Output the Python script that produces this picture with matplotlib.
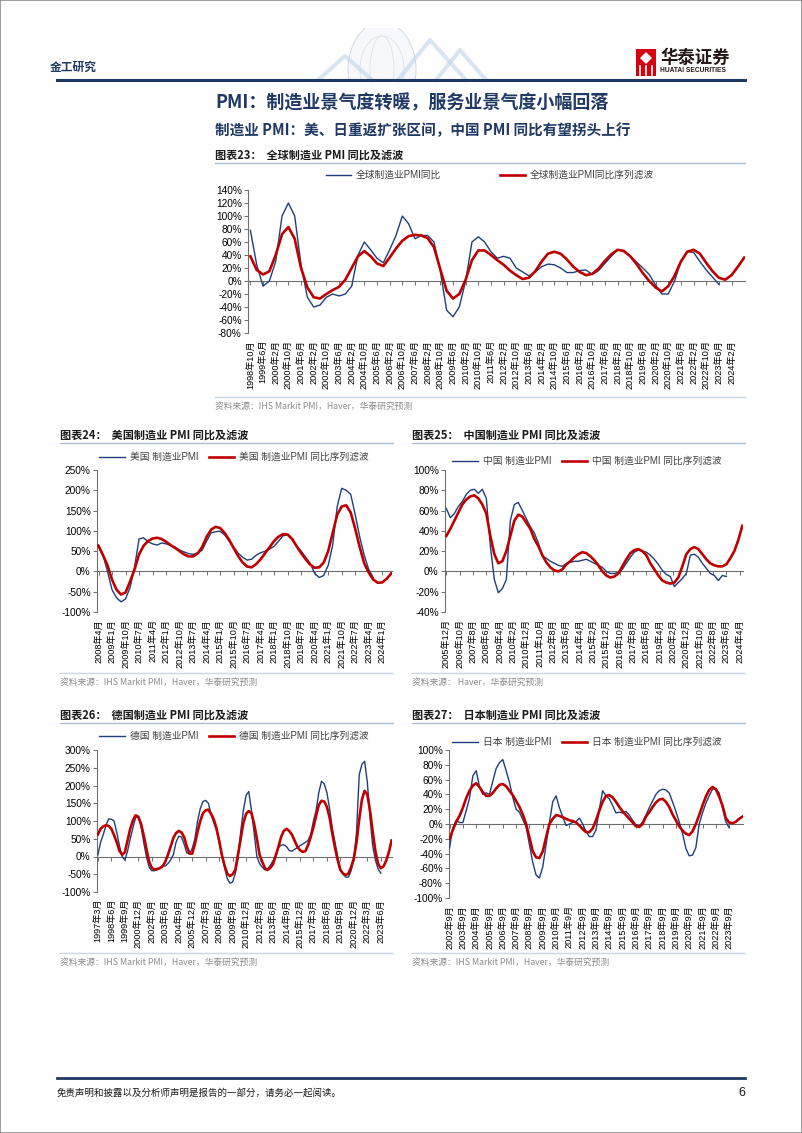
import numpy as np
import matplotlib
matplotlib.use("Agg")
import matplotlib.pyplot as plt
from matplotlib.lines import Line2D
from matplotlib.patches import Rectangle, Circle, Polygon, Ellipse
from matplotlib.ticker import FuncFormatter

W, H = 802, 1133
plt.rcParams["font.family"] = ["Liberation Sans", "Noto Sans CJK SC"]
CJK = ["Noto Sans CJK SC", "Liberation Sans"]

BLUE = "#1F3F7A"
RED = "#C00000"
NAVY = "#1F3864"
AXC = "#6E6E6E"
SRC = "#8C8C8C"
RULE = "#A9BFD6"

# ---- data (percent, one value per sample step) ----
# 图表23 global, every 4 months from 1998-10
GLB_STEP = 4
GLB_RAW = [78, 25, -8, 0, 30, 100, 120, 100, 25, -25, -40, -37, -25, -20, -23,
           -20, -8, 40, 60, 48, 35, 28, 48, 70, 100, 88, 65, 70, 70, 60,
           15, -45, -55, -40, 0, 60, 68, 60, 45, 35, 38, 35, 20, 14, 8,
           14, 22, 26, 25, 20, 13, 13, 16, 17, 10, 16, 27, 38, 48, 47,
           38, 29, 20, 10, -6, -20, -20, 0, 30, 45, 44, 30, 17, 6, -5]
GLB_FLT = [38, 17, 10, 15, 40, 72, 83, 65, 20, -10, -25, -27, -20, -14, -9,
           2, 20, 38, 46, 38, 27, 23, 36, 50, 62, 69, 71, 70, 66, 52,
           18, -15, -27, -20, 2, 32, 47, 47, 40, 32, 25, 16, 9, 3, 5,
           15, 30, 42, 45, 42, 33, 22, 14, 9, 11, 19, 31, 41, 48, 46,
           38, 26, 12, 0, -10, -16, -8, 8, 30, 45, 48, 42, 28, 15, 5,
           2, 9, 22, 36]
GLB_TICKS = ["1998年10月", "1999年6月", "2000年2月", "2000年10月", "2001年6月",
             "2002年2月", "2002年10月", "2003年6月", "2004年2月", "2004年10月",
             "2005年6月", "2006年2月", "2006年10月", "2007年6月", "2008年2月",
             "2008年10月", "2009年6月", "2010年2月", "2010年10月", "2011年6月",
             "2012年2月", "2012年10月", "2013年6月", "2014年2月", "2014年10月",
             "2015年6月", "2016年2月", "2016年10月", "2017年6月", "2018年2月",
             "2018年10月", "2019年6月", "2020年2月", "2020年10月", "2021年6月",
             "2022年2月", "2022年10月", "2023年6月", "2024年2月"]

# 图表24 US, every 3 months from 2008-4
US_STEP = 3
US_RAW = [65, 40, 0, -45, -65, -75, -68, -40, 10, 80, 83, 73, 68, 65, 70,
          68, 64, 60, 53, 48, 44, 42, 46, 52, 75, 95, 98, 99, 90, 75,
          60, 45, 35, 28, 30, 40, 46, 50, 55, 62, 75, 88, 90, 78, 62,
          50, 35, 20, -5, -15, -10, 15, 65, 160, 205, 200, 190, 140, 85, 40,
          5, -15]
US_FLT = [63, 40, 15, -20, -45, -57, -52, -25, 5, 42, 63, 75, 81, 83, 80,
          73, 65, 58, 50, 42, 37, 37, 44, 60, 85, 103, 110, 107, 95, 78,
          58, 38, 22, 12, 10, 18, 30, 45, 60, 75, 86, 92, 91, 80, 62,
          45, 30, 17, 9, 10, 22, 50, 95, 140, 160, 163, 145, 105, 60, 20,
          -3, -20, -28, -27, -18, -5]
US_TICKS = ["2008年4月", "2009年1月", "2009年10月", "2010年7月", "2011年4月",
            "2012年1月", "2012年10月", "2013年7月", "2014年4月", "2015年1月",
            "2015年10月", "2016年7月", "2017年4月", "2018年1月", "2018年10月",
            "2019年7月", "2020年4月", "2021年1月", "2021年10月", "2022年7月",
            "2023年4月", "2024年1月"]

# 图表25 China, every 3 months from 2005-12
CN_STEP = 3
CN_RAW = [62, 53, 57, 64, 69, 76, 80, 81, 77, 81, 72, 25, -8, -21, -17,
          -8, 50, 66, 68, 60, 52, 44, 38, 28, 15, 13, 10, 8, 6, 5,
          8, 9, 10, 10, 11, 12, 10, 8, 6, 4, 0, -2, -2, -1, 2,
          8, 14, 19, 21, 20, 19, 16, 12, 7, 1, -3, -5, -15, -11, -7,
          -2, 16, 17, 14, 8, 3, -2, -4, -9, -4, -5]
CN_FLT = [35, 42, 50, 58, 66, 71, 74, 75, 72, 66, 57, 35, 17, 8, 10,
          20, 35, 50, 56, 54, 48, 42, 32, 25, 16, 9, 4, 1, 0, 2,
          7, 10, 14, 17, 19, 18, 15, 11, 6, 0, -4, -6, -5, -2, 5,
          12, 18, 21, 22, 20, 16, 8, 2, -4, -9, -11, -12, -11, -6, 5,
          17, 22, 24, 22, 17, 12, 8, 6, 5, 5, 7, 13, 20, 31, 45]
CN_TICKS = ["2005年12月", "2006年10月", "2007年8月", "2008年6月", "2009年4月",
            "2010年2月", "2010年12月", "2011年10月", "2012年8月", "2013年6月",
            "2014年4月", "2015年2月", "2015年12月", "2016年10月", "2017年8月",
            "2018年6月", "2019年4月", "2020年2月", "2020年12月", "2021年10月",
            "2022年8月", "2023年6月", "2024年4月"]

# 图表26 Germany, every 3 months from 1997-3
DE_STEP = 3
DE_RAW = [5, 40, 62, 88, 106, 105, 100, 68, 30, 0, -10, 15, 50, 80, 110,
          112, 85, 40, 0, -30, -40, -40, -38, -32, -25, -27, -20, -10, 5, 40,
          57, 55, 35, 10, 9, 22, 50, 100, 135, 155, 158, 150, 120, 95, 75,
          40, 5, -30, -62, -75, -72, -48, -5, 70, 130, 172, 183, 130, 65, 0,
          -20, -30, -38, -35, -25, -12, -2, 25, 32, 33, 28, 17, 15, 20, 25,
          30, 35, 40, 45, 62, 100, 130, 180, 212, 205, 180, 135, 80, 40, 0,
          -35, -50, -58, -58, -40, -8, 70, 230, 260, 268, 210, 110, 30, -10, -35,
          -47]
DE_FLT = [62, 78, 85, 88, 86, 78, 60, 40, 16, 5, 12, 45, 78, 102, 116,
          112, 92, 60, 22, -14, -32, -37, -35, -33, -28, -15, 5, 28, 52, 66,
          72, 68, 55, 28, 8, 8, 35, 70, 100, 122, 130, 132, 120, 105, 80,
          45, 5, -25, -48, -55, -50, -38, 5, 50, 95, 120, 128, 122, 92, 50,
          5, -15, -33, -38, -32, -22, 3, 27, 55, 72, 78, 72, 62, 45, 28,
          18, 13, 15, 32, 55, 82, 115, 145, 157, 155, 140, 110, 65, 25, -10,
          -38, -48, -52, -48, -30, -5, 40, 105, 160, 185, 175, 130, 70, 15, -20,
          -33, -28, -12, 12, 45]
DE_TICKS = ["1997年3月", "1998年6月", "1999年9月", "2000年12月", "2002年3月",
            "2003年6月", "2004年9月", "2005年12月", "2007年3月", "2008年6月",
            "2009年9月", "2010年12月", "2012年3月", "2013年6月", "2014年9月",
            "2015年12月", "2017年3月", "2018年6月", "2019年9月", "2020年12月",
            "2022年3月", "2023年6月"]

# 图表27 Japan, every 3 months from 2002-9
JP_STEP = 3
JP_RAW = [-32, -5, 5, 2, 2, 18, 35, 65, 72, 50, 40, 42, 40, 58, 75,
          83, 87, 72, 56, 36, 20, 16, 6, -4, -28, -52, -69, -73, -58, -28,
          2, 30, 38, 22, 10, -2, 0, 2, 3, 8, 0, -10, -17, -17, -8,
          20, 45, 38, 34, 25, 15, 16, 15, 17, 12, 5, -1, -3, 3, 12,
          22, 31, 40, 45, 47, 46, 42, 30, 17, 3, -13, -33, -43, -42, -32,
          0, 15, 28, 38, 47, 48, 42, 22, 3, -5]
JP_FLT = [-20, -8, 3, 11, 22, 35, 45, 52, 55, 50, 43, 38, 38, 42, 48,
          53, 54, 51, 45, 39, 31, 23, 13, 0, -18, -37, -45, -46, -37, -18,
          0, 7, 12, 11, 9, 7, 5, 4, 2, -2, -7, -11, -11, -6, 5,
          18, 30, 38, 39, 36, 30, 23, 17, 12, 7, 2, -3, -4, 0, 10,
          16, 23, 29, 33, 34, 30, 23, 13, 5, -3, -9, -13, -15, -10, 0,
          12, 25, 37, 46, 50, 47, 37, 25, 8, 2, 1, 3, 7, 10]
JP_TICKS = ["2002年9月", "2003年9月", "2004年9月", "2005年9月", "2006年9月",
            "2007年9月", "2008年9月", "2009年9月", "2010年9月", "2011年9月",
            "2012年9月", "2013年9月", "2014年9月", "2015年9月", "2016年9月",
            "2017年9月", "2018年9月", "2019年9月", "2020年9月", "2021年9月",
            "2022年9月", "2023年9月"]


def fx(x): return x / W
def fy(y): return 1 - y / H


def hline(fig, x0, x1, y, color, lw):
    fig.add_artist(Line2D([fx(x0), fx(x1)], [fy(y), fy(y)], color=color, lw=lw,
                          transform=fig.transFigure))


def text(fig, x, y, s, **kw):
    kw.setdefault("va", "center")
    fig.text(fx(x), fy(y), s, **kw)


def pmi_chart(fig, box, step, raw, flt, gap, ticks, ylim, ystep, names, xlim, leg_xy, colsp):
    l, t, r, b = box
    ax = fig.add_axes([fx(l), fy(b), (r - l) / W, (b - t) / H])
    ax.patch.set_alpha(0)
    ax.plot(np.arange(len(raw)) * step, raw, color=BLUE, lw=1.0, label=names[0], zorder=3)
    ax.plot(np.arange(len(flt)) * step, flt, color=RED, lw=1.9, label=names[1], zorder=4)
    ax.set_xlim(*xlim); ax.set_ylim(*ylim)
    ax.set_yticks(np.arange(ylim[0], ylim[1] + 1, ystep))
    ax.yaxis.set_major_formatter(FuncFormatter(lambda v, p: f"{int(round(v))}%"))
    ax.tick_params(axis="y", length=3, width=0.7, color=AXC, labelsize=7.3, pad=1.5)
    for s in ("top", "right"):
        ax.spines[s].set_visible(False)
    for s in ("left", "bottom"):
        ax.spines[s].set_color(AXC); ax.spines[s].set_linewidth(0.8)
    ax.spines["bottom"].set_position(("data", 0))
    pos = np.arange(len(ticks)) * gap
    ax.set_xticks(pos)
    ax.tick_params(axis="x", length=3, width=0.7, color=AXC, labelbottom=False)
    sec = ax.secondary_xaxis("bottom")
    sec.set_xticks(pos, ticks)
    sec.tick_params(length=0, pad=5, labelsize=6.6, labelrotation=90)
    for s in sec.spines.values():
        s.set_visible(False)
    leg = ax.legend(loc="center", bbox_to_anchor=(fx(leg_xy[0]), fy(leg_xy[1])),
                    bbox_transform=fig.transFigure, ncol=2, frameon=False, fontsize=7,
                    handlelength=2.6, handletextpad=0.5, columnspacing=colsp, borderpad=0)
    for tx in leg.get_texts():
        tx.set_color("#404040")
    return ax


def block_frame(fig, x0, x1, y_title, y_rule, y_src, title, source):
    text(fig, x0, y_title, title, fontsize=8, fontweight="bold", family=CJK, color="#1A1A1A")
    hline(fig, x0, x1, y_rule, RULE, 1.0)
    hline(fig, x0, x1, y_src, "#C9D6E3", 1.0)
    text(fig, x0, y_src + 9, source, fontsize=6.3, family=CJK, color=SRC)


fig = plt.figure(figsize=(W / 100, H / 100), dpi=100)
fig.patch.set_facecolor("white")
fig.add_artist(Rectangle((0, 0), 1, 1, transform=fig.transFigure, fill=False,
                         edgecolor="#8A8A8A", lw=1.2))

# header decoration (faint globe and ridges)
clip = Rectangle((fx(280), fy(79)), fx(230), fy(28) - fy(79), transform=fig.transFigure)
globe = Circle((fx(382), fy(70)), 34 / W, transform=fig.transFigure, facecolor="#F6F8FB",
               edgecolor="#D3DAE3", lw=0.7)
fig.add_artist(globe); globe.set_clip_path(clip)
for wd in (44, 24):
    mer = Ellipse((fx(382), fy(70)), wd / W, 68 / H, transform=fig.transFigure, fill=False,
                  edgecolor="#DCE2EA", lw=0.6)
    fig.add_artist(mer); mer.set_clip_path(clip)
for pts in ([(318, 80), (345, 56), (372, 80)], [(398, 80), (430, 40), (466, 80)],
            [(436, 80), (460, 50), (486, 80)]):
    ridge = Line2D([fx(p[0]) for p in pts], [fy(p[1]) for p in pts], color="#BCD1EA",
                   lw=3, alpha=0.55, transform=fig.transFigure)
    fig.add_artist(ridge)

text(fig, 50, 67, "金工研究", fontsize=8.5, fontweight="bold", family=CJK, color=NAVY)
fig.add_artist(Rectangle((fx(636), fy(76)), 20 / W, 27 / H, transform=fig.transFigure,
                         facecolor="#D7000F", edgecolor="none"))
fig.add_artist(Polygon([(fx(646), fy(52)), (fx(652), fy(58)), (fx(646), fy(64)), (fx(640), fy(58))],
                       closed=True, transform=fig.transFigure, facecolor="white", edgecolor="none"))
for xx in (640, 646, 652):
    fig.add_artist(Line2D([fx(xx), fx(xx)], [fy(66), fy(75)], color="white", lw=1.2,
                          transform=fig.transFigure))
text(fig, 660, 58, "华泰证券", fontsize=12.5, fontweight="bold", family=CJK, color="#231815")
text(fig, 660, 71, "HUATAI SECURITIES", fontsize=4.8, fontweight="bold", color="#231815")
hline(fig, 57, 745, 80, NAVY, 2.2)

text(fig, 215, 103, "PMI：制造业景气度转暖，服务业景气度小幅回落", fontsize=13,
     fontweight="bold", family=CJK, color=NAVY)
text(fig, 215, 130, "制造业 PMI：美、日重返扩张区间，中国 PMI 同比有望拐头上行", fontsize=10.5,
     fontweight="bold", family=CJK, color=NAVY)

SRC_FULL = "资料来源：IHS Markit PMI，Haver，华泰研究预测"

# 图表23
block_frame(fig, 215, 745, 155, 163, 397, "图表23：  全球制造业 PMI 同比及滤波", SRC_FULL)
pmi_chart(fig, (248, 190, 745, 333), GLB_STEP, GLB_RAW, GLB_FLT, 8, GLB_TICKS,
          (-80, 140), 20, ["全球制造业PMI同比", "全球制造业PMI同比序列滤波"],
          (-1.5, 312.5), (490, 175), 6.0)

# 图表24 / 25
block_frame(fig, 60, 393, 435, 443, 673, "图表24：  美国制造业 PMI 同比及滤波", SRC_FULL)
pmi_chart(fig, (97, 470, 392, 612), US_STEP, US_RAW, US_FLT, 9, US_TICKS,
          (-100, 250), 50, ["美国 制造业PMI", "美国 制造业PMI 同比序列滤波"],
          (-1, 195.5), (234, 457), 1.1)

block_frame(fig, 412, 745, 435, 443, 673, "图表25：  中国制造业 PMI 同比及滤波",
            "资料来源： Haver，华泰研究预测")
pmi_chart(fig, (445, 470, 743, 612), CN_STEP, CN_RAW, CN_FLT, 10, CN_TICKS,
          (-40, 100), 20, ["中国 制造业PMI", "中国 制造业PMI 同比序列滤波"],
          (-1, 222.5), (587, 461), 1.1)

# 图表26 / 27
block_frame(fig, 60, 393, 715, 723, 953, "图表26：  德国制造业 PMI 同比及滤波", SRC_FULL)
pmi_chart(fig, (97, 750, 392, 892), DE_STEP, DE_RAW, DE_FLT, 15, DE_TICKS,
          (-100, 300), 50, ["德国 制造业PMI", "德国 制造业PMI 同比序列滤波"],
          (-1, 327.5), (234, 736), 1.1)

block_frame(fig, 412, 745, 715, 723, 953, "图表27：  日本制造业 PMI 同比及滤波", SRC_FULL)
pmi_chart(fig, (449, 750, 743, 898), JP_STEP, JP_RAW, JP_FLT, 12, JP_TICKS,
          (-100, 100), 20, ["日本 制造业PMI", "日本 制造业PMI 同比序列滤波"],
          (-0.5, 264.5), (587, 742), 1.1)

# footer
hline(fig, 57, 745, 1078, NAVY, 2.0)
text(fig, 57, 1093, "免责声明和披露以及分析师声明是报告的一部分，请务必一起阅读。", fontsize=6.8,
     family=CJK, color="#1A1A1A")
text(fig, 745, 1093, "6", fontsize=9, ha="right", color="#1A1A1A")

fig.savefig("out.png", dpi=100)
